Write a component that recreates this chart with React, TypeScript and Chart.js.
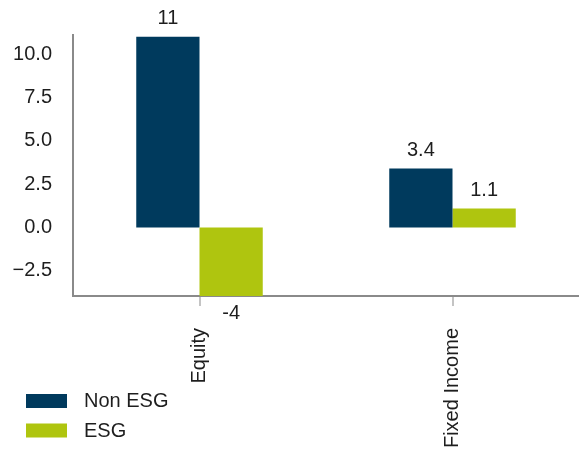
import React, { useEffect, useRef } from "react";
import { Chart, registerables } from "chart.js";

Chart.register(...registerables);

const categories = ["Equity", "Fixed Income"];
const seriesNames = ["Non ESG", "ESG"];
const nonEsgValues = [11, 3.4];
const esgValues = [-4, 1.1];
const seriesColors = ["#003a5d", "#afc50f"];
const yTickValues = [-2.5, 0, 2.5, 5, 7.5, 10];
const yMin = -3.95;
const yMax = 11.1;

const FONT = "'Liberation Sans', Arial, Helvetica, sans-serif";
const TEXT = "#1e1e1e";

const valueLabelPlugin = {
  id: "valueLabels",
  afterDatasetsDraw(chart: any) {
    const ctx = chart.ctx;
    ctx.save();
    ctx.font = `20px ${FONT}`;
    ctx.fillStyle = TEXT;
    ctx.textAlign = "center";
    ctx.textBaseline = "middle";
    chart.data.datasets.forEach((ds: any, di: number) => {
      const meta = chart.getDatasetMeta(di);
      meta.data.forEach((bar: any, i: number) => {
        const v = ds.data[i];
        const y = v >= 0 ? bar.y - 18 : bar.y + 17;
        ctx.fillText(String(v), bar.x, y);
      });
    });
    ctx.restore();
  },
};

const sideLegendPlugin = {
  id: "sideLegend",
  afterDraw(chart: any) {
    const ctx = chart.ctx;
    ctx.save();
    ctx.font = `20px ${FONT}`;
    ctx.textBaseline = "middle";
    ctx.textAlign = "left";
    chart.data.datasets.forEach((ds: any, i: number) => {
      const top = 394 + i * 29.5;
      ctx.fillStyle = ds.backgroundColor;
      ctx.fillRect(26, top, 41, 14);
      ctx.fillStyle = TEXT;
      ctx.fillText(ds.label, 84, top + 7.5);
    });
    ctx.restore();
  },
};

export default function App() {
  const canvasRef = useRef<HTMLCanvasElement | null>(null);

  useEffect(() => {
    if (!canvasRef.current) return;
    const chart = new Chart(canvasRef.current, {
      type: "bar",
      data: {
        labels: categories,
        datasets: [
          {
            label: seriesNames[0],
            data: nonEsgValues,
            backgroundColor: seriesColors[0],
            categoryPercentage: 0.5,
            barPercentage: 1,
          },
          {
            label: seriesNames[1],
            data: esgValues,
            backgroundColor: seriesColors[1],
            categoryPercentage: 0.5,
            barPercentage: 1,
          },
        ],
      },
      options: {
        animation: false,
        responsive: true,
        maintainAspectRatio: false,
        layout: { padding: { top: 35, left: 0, right: 0, bottom: 0 } },
        plugins: {
          legend: { display: false },
          tooltip: { enabled: false },
          title: { display: false },
        },
        scales: {
          x: {
            grid: {
              display: true,
              drawOnChartArea: false,
              drawTicks: true,
              tickLength: 10,
              offset: false,
              color: "#c4c4c4",
              lineWidth: 2,
            },
            border: { display: true, color: "#8a8a8a", width: 2 },
            ticks: {
              font: { family: FONT, size: 20 },
              color: TEXT,
              minRotation: 90,
              maxRotation: 90,
              padding: 22,
              autoSkip: false,
            },
            afterFit(scale: any) {
              scale.height = 159;
            },
          },
          y: {
            min: yMin,
            max: yMax,
            grid: { display: false, drawTicks: false },
            border: { display: true, color: "#8a8a8a", width: 2 },
            ticks: {
              font: { family: FONT, size: 20 },
              color: TEXT,
              padding: 21,
              callback: (v: any) => Number(v).toFixed(1).replace("-", "\u2212"),
            },
            afterBuildTicks(scale: any) {
              scale.ticks = yTickValues.map((value) => ({ value }));
            },
            afterFit(scale: any) {
              scale.width = 73;
            },
          },
        },
      },
      plugins: [valueLabelPlugin, sideLegendPlugin],
    });
    return () => chart.destroy();
  }, []);

  return (
    <div
      style={{
        position: "fixed",
        left: 0,
        top: 0,
        width: 579,
        height: 455,
        background: "#ffffff",
      }}
    >
      <canvas ref={canvasRef} />
    </div>
  );
}
